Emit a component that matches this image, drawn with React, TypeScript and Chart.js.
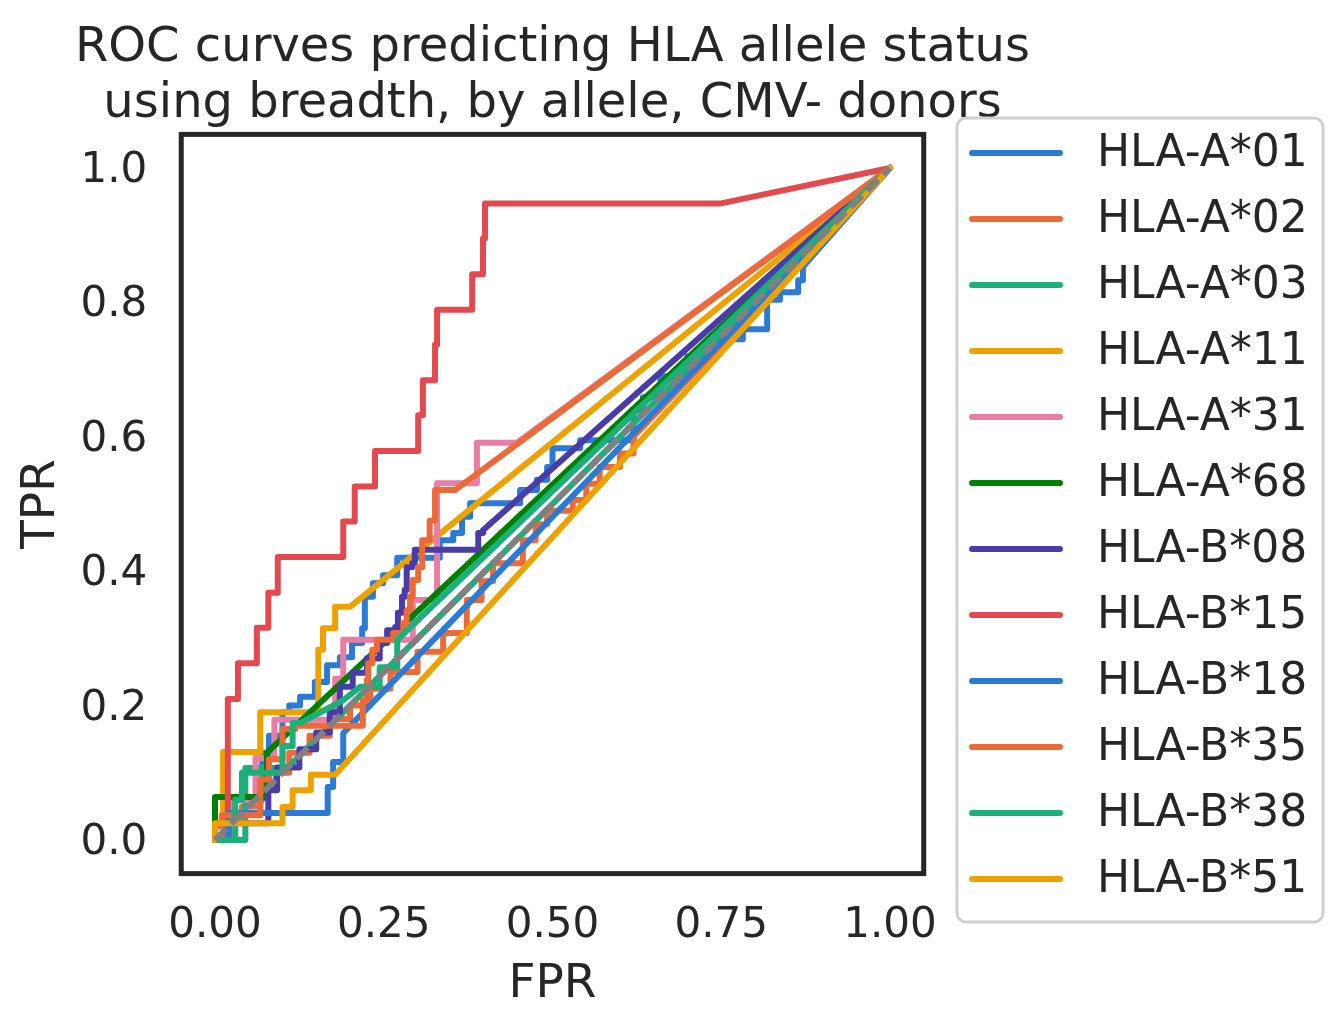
import { useEffect, useRef } from 'react';
import { Chart, registerables } from 'chart.js';

Chart.register(...registerables);

// ROC data (FPR / TPR pairs per allele)
const A01_FPR = [0, 0.025, 0.025, 0.07, 0.07, 0.08, 0.08, 0.1, 0.1, 0.11, 0.11, 0.126, 0.126, 0.148, 0.148, 0.166, 0.166, 0.185, 0.185, 0.203, 0.203, 0.218, 0.218, 0.222, 0.222, 0.234, 0.234, 0.249, 0.249, 0.27, 0.27, 0.333, 0.333, 0.353, 0.353, 0.366, 0.366, 0.378, 0.378, 0.452, 0.452, 0.477, 0.477, 0.492, 0.492, 0.5, 0.5, 0.541, 0.541, 0.62, 0.62, 0.634, 0.634, 0.66, 0.66, 0.7, 0.7, 0.74, 0.74, 0.782, 0.782, 0.818, 0.818, 0.837, 0.837, 0.864, 0.864, 0.871, 0.871, 1];
const A01_TPR = [0, 0, 0.06, 0.06, 0.13, 0.13, 0.155, 0.155, 0.19, 0.19, 0.2, 0.2, 0.213, 0.213, 0.235, 0.235, 0.26, 0.26, 0.272, 0.272, 0.293, 0.293, 0.315, 0.315, 0.362, 0.362, 0.382, 0.382, 0.394, 0.394, 0.42, 0.42, 0.446, 0.446, 0.457, 0.457, 0.481, 0.481, 0.501, 0.501, 0.521, 0.521, 0.536, 0.536, 0.555, 0.555, 0.583, 0.583, 0.595, 0.595, 0.64, 0.64, 0.659, 0.659, 0.69, 0.69, 0.72, 0.72, 0.745, 0.745, 0.76, 0.76, 0.804, 0.804, 0.815, 0.815, 0.833, 0.833, 0.853, 1];

const A02_FPR = [0, 0.015, 0.015, 0.04, 0.04, 0.067, 0.067, 0.09, 0.09, 0.11, 0.11, 0.14, 0.14, 0.17, 0.17, 0.2, 0.2, 0.23, 0.23, 0.26, 0.26, 0.3, 0.3, 0.338, 0.338, 0.373, 0.373, 0.395, 0.395, 0.412, 0.412, 0.456, 0.456, 0.475, 0.475, 0.492, 0.492, 0.53, 0.53, 0.55, 0.55, 0.57, 0.57, 0.6, 0.6, 0.62, 0.62, 1];
const A02_TPR = [0, 0, 0.03, 0.03, 0.05, 0.05, 0.075, 0.075, 0.1, 0.1, 0.13, 0.13, 0.155, 0.155, 0.18, 0.18, 0.2, 0.2, 0.225, 0.225, 0.25, 0.25, 0.28, 0.28, 0.308, 0.308, 0.357, 0.357, 0.385, 0.385, 0.412, 0.412, 0.446, 0.446, 0.47, 0.47, 0.49, 0.49, 0.506, 0.506, 0.53, 0.53, 0.555, 0.555, 0.575, 0.575, 0.6, 1];

const A03_FPR = [0, 0.045, 0.045, 0.107, 1];
const A03_TPR = [0, 0, 0.107, 0.107, 1];

const A11_FPR = [0, 0, 0.012, 0.012, 0.067, 0.067, 0.153, 0.153, 0.16, 0.16, 0.178, 0.178, 0.2, 1];
const A11_TPR = [0, 0.025, 0.025, 0.131, 0.131, 0.19, 0.19, 0.283, 0.283, 0.315, 0.315, 0.347, 0.347, 1];

const A31_FPR = [0, 0.025, 0.025, 0.06, 0.06, 0.088, 0.088, 0.178, 0.178, 0.19, 0.19, 0.293, 0.293, 0.329, 0.329, 0.388, 0.388, 0.447, 1];
const A31_TPR = [0, 0, 0.06, 0.06, 0.122, 0.122, 0.179, 0.179, 0.24, 0.24, 0.298, 0.298, 0.357, 0.357, 0.531, 0.531, 0.591, 0.591, 1];

const A68_FPR = [0, 0, 0.077, 0.077, 1];
const A68_TPR = [0, 0.064, 0.064, 0.13, 1];

const B08_FPR = [0, 0.02, 0.02, 0.079, 0.079, 0.092, 0.092, 0.125, 0.125, 0.15, 0.15, 0.17, 0.17, 0.185, 0.185, 0.204, 0.204, 0.225, 0.225, 0.244, 0.244, 0.255, 0.255, 0.267, 0.267, 0.271, 0.271, 0.277, 0.277, 0.281, 0.281, 0.284, 0.284, 0.292, 0.292, 0.296, 0.296, 0.39, 0.39, 0.397, 0.397, 1];
const B08_TPR = [0, 0, 0.025, 0.025, 0.074, 0.074, 0.108, 0.108, 0.135, 0.135, 0.16, 0.16, 0.19, 0.19, 0.228, 0.228, 0.249, 0.249, 0.27, 0.27, 0.293, 0.293, 0.312, 0.312, 0.317, 0.317, 0.338, 0.338, 0.362, 0.362, 0.372, 0.372, 0.406, 0.406, 0.412, 0.412, 0.432, 0.432, 0.457, 0.457, 0.461, 1];

const B15_FPR = [0, 0.019, 0.019, 0.034, 0.034, 0.062, 0.062, 0.079, 0.079, 0.093, 0.093, 0.19, 0.19, 0.207, 0.207, 0.237, 0.237, 0.301, 0.301, 0.308, 0.308, 0.326, 0.326, 0.329, 0.329, 0.381, 0.381, 0.397, 0.397, 0.4, 0.4, 0.748, 1];
const B15_TPR = [0, 0, 0.21, 0.21, 0.263, 0.263, 0.316, 0.316, 0.368, 0.368, 0.421, 0.421, 0.474, 0.474, 0.526, 0.526, 0.579, 0.579, 0.632, 0.632, 0.684, 0.684, 0.737, 0.737, 0.789, 0.789, 0.842, 0.842, 0.895, 0.895, 0.947, 0.947, 1];

const B18_FPR = [0, 0.02, 0.02, 0.167, 0.167, 0.175, 0.175, 0.19, 0.19, 1];
const B18_TPR = [0, 0, 0.04, 0.04, 0.079, 0.079, 0.116, 0.116, 0.159, 1];

const B35_FPR = [0, 0, 0.01, 0.01, 0.067, 0.067, 0.08, 0.08, 0.1, 0.1, 0.119, 0.119, 0.219, 0.219, 0.225, 0.225, 0.227, 0.227, 0.233, 0.233, 0.24, 0.24, 0.264, 0.264, 0.279, 0.279, 0.284, 0.284, 0.289, 0.289, 0.293, 0.293, 0.301, 0.301, 0.307, 0.307, 0.318, 0.318, 0.326, 0.326, 0.356, 1];
const B35_TPR = [0, 0.02, 0.02, 0.037, 0.037, 0.09, 0.09, 0.12, 0.12, 0.165, 0.165, 0.17, 0.17, 0.208, 0.208, 0.238, 0.238, 0.263, 0.263, 0.283, 0.283, 0.298, 0.298, 0.308, 0.308, 0.323, 0.323, 0.342, 0.342, 0.362, 0.362, 0.387, 0.387, 0.406, 0.406, 0.446, 0.446, 0.475, 0.475, 0.521, 0.521, 1];

const B38_FPR = [0, 0.03, 0.03, 0.04, 0.04, 0.1, 0.1, 0.115, 0.115, 0.126, 0.19, 0.215, 0.244, 0.244, 0.27, 0.27, 1];
const B38_TPR = [0, 0, 0.06, 0.06, 0.1, 0.1, 0.14, 0.14, 0.174, 0.174, 0.208, 0.228, 0.228, 0.257, 0.257, 0.298, 1];

const B51_FPR = [0, 0, 0.1, 0.1, 0.115, 0.115, 0.142, 0.142, 0.178, 1];
const B51_TPR = [0, 0.025, 0.025, 0.049, 0.049, 0.074, 0.074, 0.097, 0.097, 1];

const CHANCE = [0, 1];

const LABELS = ['HLA-A*01', 'HLA-A*02', 'HLA-A*03', 'HLA-A*11', 'HLA-A*31', 'HLA-A*68', 'HLA-B*08', 'HLA-B*15', 'HLA-B*18', 'HLA-B*35', 'HLA-B*38', 'HLA-B*51'];
const SERIES = [
  [A01_FPR, A01_TPR], [A02_FPR, A02_TPR], [A03_FPR, A03_TPR], [A11_FPR, A11_TPR],
  [A31_FPR, A31_TPR], [A68_FPR, A68_TPR], [B08_FPR, B08_TPR], [B15_FPR, B15_TPR],
  [B18_FPR, B18_TPR], [B35_FPR, B35_TPR], [B38_FPR, B38_TPR], [B51_FPR, B51_TPR],
];
const PALETTE = ['#2b7bd6', '#ec6a37', '#1bb07a', '#eea200', '#e87ea5', '#008000', '#4a3ca8', '#e34a4f'];

const X_TICKS = [0, 0.25, 0.5, 0.75, 1];
const Y_TICKS = [0, 0.2, 0.4, 0.6, 0.8, 1];
const TITLE = ['ROC curves predicting HLA allele status', 'using breadth, by allele, CMV- donors'];

const FONT = '"DejaVu Sans", sans-serif';
const INK = '#262626';
const LINE_W = 6;

const decorPlugin = {
  id: 'decor',
  afterDraw(chart: any) {
    const { ctx, chartArea } = chart;
    const { left, top, right, bottom } = chartArea;
    ctx.save();
    // frame round the axes
    ctx.strokeStyle = INK;
    ctx.lineWidth = 5;
    ctx.strokeRect(left, top, right - left, bottom - top);

    // title
    ctx.fillStyle = INK;
    ctx.font = `48px ${FONT}`;
    ctx.textAlign = 'center';
    ctx.textBaseline = 'alphabetic';
    const cx = (left + right) / 2;
    ctx.fillText(TITLE[0], cx, 61);
    ctx.fillText(TITLE[1], cx, 117);

    // legend box outside the plot
    const bx = 957, by = 118, bw = 366, bh = 804;
    ctx.beginPath();
    ctx.roundRect(bx, by, bw, bh, 9);
    ctx.fillStyle = '#ffffff';
    ctx.fill();
    ctx.strokeStyle = '#d0d0d0';
    ctx.lineWidth = 3;
    ctx.stroke();

    ctx.font = `44px ${FONT}`;
    ctx.textAlign = 'left';
    ctx.textBaseline = 'middle';
    ctx.lineCap = 'round';
    LABELS.forEach((label, i) => {
      const y = 153 + i * 66;
      ctx.strokeStyle = PALETTE[i % PALETTE.length];
      ctx.lineWidth = LINE_W;
      ctx.beginPath();
      ctx.moveTo(972, y);
      ctx.lineTo(1060, y);
      ctx.stroke();
      ctx.fillStyle = INK;
      ctx.fillText(label, 1097, y + 2);
    });
    ctx.restore();
  },
};

export default function App() {
  const canvasRef = useRef<HTMLCanvasElement>(null);
  const chartRef = useRef<Chart | null>(null);

  useEffect(() => {
    if (!canvasRef.current) return;
    if (chartRef.current) chartRef.current.destroy();

    const datasets: any[] = SERIES.map(([fpr, tpr], i) => ({
      label: LABELS[i],
      data: fpr.map((x, k) => ({ x, y: tpr[k] })),
      borderColor: PALETTE[i % PALETTE.length],
      borderWidth: LINE_W,
      borderJoinStyle: 'round',
      borderCapStyle: 'round',
      pointRadius: 0,
      fill: false,
      tension: 0,
      order: SERIES.length - i,
    }));
    datasets.push({
      label: 'chance',
      data: CHANCE.map((v) => ({ x: v, y: v })),
      borderColor: '#808080',
      borderWidth: LINE_W,
      borderDash: [16, 7],
      pointRadius: 0,
      fill: false,
      order: 0,
    });

    chartRef.current = new Chart(canvasRef.current, {
      type: 'line',
      data: { datasets },
      plugins: [decorPlugin],
      options: {
        animation: false,
        responsive: true,
        maintainAspectRatio: false,
        layout: { padding: { top: 134.4, right: 419.25, bottom: 0, left: 0 } },
        plugins: {
          legend: { display: false },
          tooltip: { enabled: false },
        },
        scales: {
          x: {
            type: 'linear',
            min: -0.05,
            max: 1.05,
            afterBuildTicks: (scale: any) => {
              scale.ticks = X_TICKS.map((value) => ({ value }));
            },
            afterFit: (scale: any) => {
              scale.height = 154.4;
            },
            grid: { display: false, drawTicks: false },
            border: { display: false },
            ticks: {
              color: INK,
              font: { family: FONT, size: 42 },
              padding: 27,
              maxRotation: 0,
              callback: (v: any) => Number(v).toFixed(2),
            },
            title: {
              display: true,
              text: 'FPR',
              color: INK,
              font: { family: FONT, size: 47 },
              padding: { top: 0, bottom: 15 },
            },
          },
          y: {
            type: 'linear',
            min: -0.05,
            max: 1.05,
            afterBuildTicks: (scale: any) => {
              scale.ticks = Y_TICKS.map((value) => ({ value }));
            },
            afterFit: (scale: any) => {
              scale.width = 181.25;
            },
            grid: { display: false, drawTicks: false },
            border: { display: false },
            ticks: {
              color: INK,
              font: { family: FONT, size: 42 },
              padding: 34,
              labelOffset: 3,
              callback: (v: any) => Number(v).toFixed(1),
            },
            title: {
              display: true,
              text: 'TPR',
              color: INK,
              font: { family: FONT, size: 47 },
              padding: { top: 14, bottom: 0 },
            },
          },
        },
      },
    });

    return () => {
      if (chartRef.current) {
        chartRef.current.destroy();
        chartRef.current = null;
      }
    };
  }, []);

  return (
    <div style={{ position: 'absolute', left: 0, top: 0, width: 1343, height: 1028 }}>
      <canvas ref={canvasRef} />
    </div>
  );
}
